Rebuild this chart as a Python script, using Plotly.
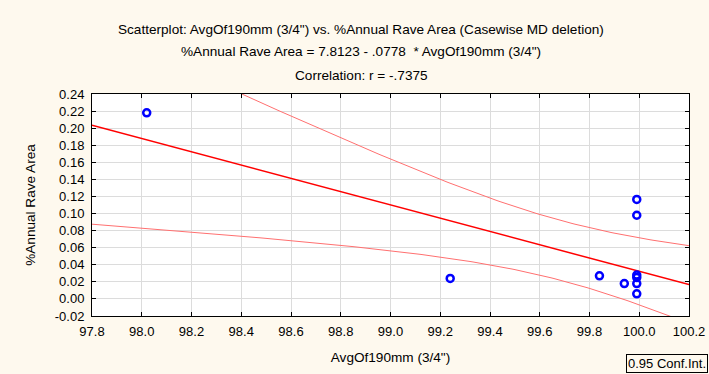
import numpy as np
import plotly.graph_objects as go

# Data
avg_190mm = [98.02, 99.24, 99.84, 99.94, 99.99, 99.99, 99.99, 99.99, 99.99, 99.99]
annual_rave_area = [0.218, 0.024, 0.027, 0.018, 0.1165, 0.098, 0.028, 0.025, 0.018, 0.006]

x_ticks = [97.8, 98.0, 98.2, 98.4, 98.6, 98.8, 99.0, 99.2, 99.4, 99.6, 99.8, 100.0, 100.2]
y_ticks = [-0.02, 0.00, 0.02, 0.04, 0.06, 0.08, 0.10, 0.12, 0.14, 0.16, 0.18, 0.20, 0.22, 0.24]

intercept = 7.8123
slope = -0.0778
t_crit = 2.306  # t(0.975, df=8)

x = np.array(avg_190mm)
y = np.array(annual_rave_area)
n = len(x)
xbar = x.mean()
sxx = ((x - xbar) ** 2).sum()
resid = y - (intercept + slope * x)
s = np.sqrt((resid ** 2).sum() / (n - 2))

xs = np.linspace(97.8, 100.2, 200)
fit = intercept + slope * xs
half = t_crit * s * np.sqrt(1.0 / n + (xs - xbar) ** 2 / sxx)

FONT = "Liberation Sans, Arial, sans-serif"
BG = "#FEF9EE"
FS_T = 13.6
FS_TICK = 13

fig = go.Figure()
fig.add_trace(go.Scatter(x=xs, y=fit + half, mode="lines",
                         line=dict(color="#FF7070", width=1), hoverinfo="skip"))
fig.add_trace(go.Scatter(x=xs, y=fit - half, mode="lines",
                         line=dict(color="#FF7070", width=1), hoverinfo="skip"))
fig.add_trace(go.Scatter(x=xs, y=fit, mode="lines",
                         line=dict(color="#FF0000", width=1.5), hoverinfo="skip"))
fig.add_trace(go.Scatter(x=avg_190mm, y=annual_rave_area, mode="markers",
                         marker=dict(symbol="circle-open", size=7, color="#0000FF",
                                     line=dict(width=2.5, color="#0000FF")),
                         cliponaxis=False))

PLOT_TOP, PLOT_BOTTOM = 94, 316
PLOT_LEFT, PLOT_RIGHT = 92, 689
PH = PLOT_BOTTOM - PLOT_TOP
PW = PLOT_RIGHT - PLOT_LEFT

title_lines = [
    "Scatterplot: AvgOf190mm (3/4\") vs. %Annual Rave Area (Casewise MD deletion)",
    "%Annual Rave Area = 7.8123 - .0778  * AvgOf190mm (3/4\")",
    "Correlation: r = -.7375",
]
title_y = [29.5, 52, 75.5]
annotations = []
for txt, py in zip(title_lines, title_y):
    annotations.append(dict(text=txt, xref="paper", yref="paper",
                            x=(361 - PLOT_LEFT) / PW,
                            y=1 + (PLOT_TOP - py) / PH, xanchor="center", yanchor="middle",
                            showarrow=False, font=dict(family=FONT, size=FS_T, color="black")))
annotations.append(dict(text="0.95 Conf.Int.", xref="paper", yref="paper",
                        x=(626 - PLOT_LEFT) / PW, y=-(373 - PLOT_BOTTOM) / PH,
                        xanchor="left", yanchor="bottom", showarrow=False,
                        bordercolor="black", borderwidth=1, borderpad=1, bgcolor=BG,
                        font=dict(family=FONT, size=13, color="black")))

axis_common = dict(showline=True, linecolor="black", linewidth=1, mirror="allticks",
                   ticks="inside", ticklen=4, tickcolor="black",
                   showgrid=True, gridcolor="#DCDCDC", gridwidth=1, zeroline=False,
                   tickfont=dict(family=FONT, size=FS_TICK, color="black"))

fig.update_layout(
    width=709, height=374,
    margin=dict(l=PLOT_LEFT, r=709 - PLOT_RIGHT, t=PLOT_TOP, b=374 - PLOT_BOTTOM),
    paper_bgcolor=BG, plot_bgcolor="white",
    showlegend=False,
    annotations=annotations,
    xaxis=dict(range=[97.8, 100.2], tickvals=x_ticks,
               ticktext=[f"{v:.1f}" for v in x_ticks], ticklabelstandoff=3,
               title=dict(text="AvgOf190mm (3/4\")", standoff=14,
                          font=dict(family=FONT, size=FS_T, color="black")),
               automargin=False,
               **axis_common),
    yaxis=dict(range=[-0.02, 0.24], tickvals=y_ticks,
               ticktext=[f"{v:.2f}" for v in y_ticks], ticklabelstandoff=4,
               title=dict(text="%Annual Rave Area", standoff=15,
                          font=dict(family=FONT, size=FS_T, color="black")),
               automargin=False,
               **axis_common),
)

fig.write_html("out.html", config={"displayModeBar": False},
               post_script="document.body.style.margin='0';document.body.style.overflow='hidden';")
